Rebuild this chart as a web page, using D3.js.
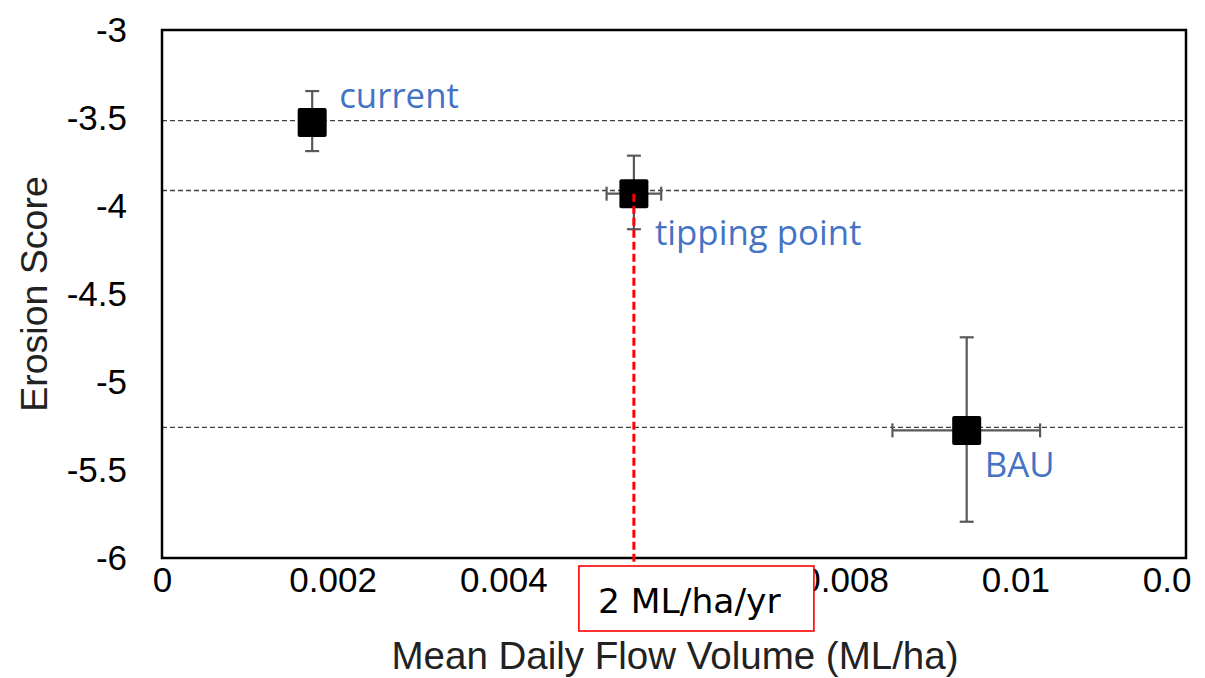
<!DOCTYPE html>
<html>
<head>
<meta charset="utf-8">
<script src="https://cdn.jsdelivr.net/npm/d3@7"></script>
<style>
  html, body { margin: 0; padding: 0; background: #fff; }
  svg { display: block; }
</style>
</head>
<body>
<svg id="chart" width="1205" height="678"></svg>
<script>
// ---- data ----
const categories = ["current", "tipping point", "BAU"];
const xValues = [0.00176, 0.00553, 0.00943];
const yValues = [-3.525, -3.93, -5.275];
const yErrLow = [-3.688, -4.132, -5.794];
const yErrHigh = [-3.347, -3.714, -4.746];
const xErrLow = [null, 0.00521, 0.00856];
const xErrHigh = [null, 0.00585, 0.01029];
const refLines = [-3.515, -3.912, -5.258];
const xTicks = [0, 0.002, 0.004, 0.006, 0.008, 0.01, 0.012];
const xTickLabels = ["0", "0.002", "0.004", "0.006", "0.008", "0.01", "0.012"];
const yTicks = [-3, -3.5, -4, -4.5, -5, -5.5, -6];
const yTickLabels = ["-3", "-3.5", "-4", "-4.5", "-5", "-5.5", "-6"];
const tippingIndex = 1;
const boxLabel = "2 ML/ha/yr";
const xTitle = "Mean Daily Flow Volume (ML/ha)";
const yTitle = "Erosion Score";

// ---- layout ----
const L = 162, R = 1186, T = 30, B = 558;
const svg = d3.select("#chart");
const x = d3.scaleLinear().domain([0, 0.012]).range([L, R]);
const y = d3.scaleLinear().domain([-6, -3]).range([B, T]);
const tickFont = "'Liberation Sans', Arial, sans-serif";
const labelFont = "'Open Sans', 'Noto Sans', sans-serif";
const blue = "#4472C4";
const errColor = "#595959";

svg.append("defs").append("clipPath").attr("id", "pageclip")
  .append("rect").attr("x", 0).attr("y", 0).attr("width", 1192).attr("height", 678);

// reference dashed lines
svg.append("g").selectAll("line").data(refLines).join("line")
  .attr("x1", L).attr("x2", R)
  .attr("y1", d => y(d)).attr("y2", d => y(d))
  .attr("stroke", "#404040").attr("stroke-width", 1.3)
  .attr("stroke-dasharray", "5,3");

// axes (labels only, via d3 axis)
const xAxis = d3.axisBottom(x).tickValues(xTicks)
  .tickFormat((d, i) => xTickLabels[i]).tickSize(0).tickPadding(34);
const gx = svg.append("g").attr("transform", `translate(0,${B})`)
  .attr("clip-path", "url(#pageclip)").call(xAxis);
gx.select(".domain").remove();
gx.selectAll("text").attr("font-family", tickFont).attr("font-size", 35)
  .attr("fill", "#000").attr("dy", "0");

const yAxis = d3.axisLeft(y).tickValues(yTicks)
  .tickFormat((d, i) => yTickLabels[i]).tickSize(0).tickPadding(35);
const gy = svg.append("g").attr("transform", `translate(${L},0)`).call(yAxis);
gy.select(".domain").remove();
gy.selectAll("text").attr("font-family", tickFont).attr("font-size", 35)
  .attr("fill", "#000");

// frame
svg.append("rect").attr("x", L).attr("y", T).attr("width", R - L).attr("height", B - T)
  .attr("fill", "none").attr("stroke", "#000").attr("stroke-width", 2.5);

// error bars
const eg = svg.append("g").attr("stroke", errColor).attr("stroke-width", 2.2);
const cap = 7;
categories.forEach((c, i) => {
  const cx = x(xValues[i]), cy = y(yValues[i]);
  eg.append("line").attr("x1", cx).attr("x2", cx).attr("y1", y(yErrHigh[i])).attr("y2", y(yErrLow[i]));
  [yErrHigh[i], yErrLow[i]].forEach(v => {
    eg.append("line").attr("x1", cx - cap).attr("x2", cx + cap).attr("y1", y(v)).attr("y2", y(v));
  });
  if (xErrLow[i] !== null) {
    eg.append("line").attr("x1", x(xErrLow[i])).attr("x2", x(xErrHigh[i])).attr("y1", cy).attr("y2", cy);
    [xErrLow[i], xErrHigh[i]].forEach(v => {
      eg.append("line").attr("x1", x(v)).attr("x2", x(v)).attr("y1", cy - cap).attr("y2", cy + cap);
    });
  }
});

// markers
const sz = 29;
svg.append("g").selectAll("rect").data(categories).join("rect")
  .attr("x", (d, i) => x(xValues[i]) - sz / 2)
  .attr("y", (d, i) => y(yValues[i]) - sz / 2)
  .attr("width", sz).attr("height", sz).attr("rx", 2)
  .attr("fill", "#000");

// labels
const labelOffsets = [[27, -14], [21, 51], [18, 47]];
svg.append("g").selectAll("text").data(categories).join("text")
  .attr("x", (d, i) => x(xValues[i]) + labelOffsets[i][0])
  .attr("y", (d, i) => y(yValues[i]) + labelOffsets[i][1])
  .attr("font-family", labelFont).attr("font-size", 34.8)
  .attr("fill", blue).text(d => d);

// red vertical dashed line from tipping point
const tx = x(xValues[tippingIndex]);
const boxTop = B + 8;
svg.append("line")
  .attr("x1", tx).attr("x2", tx)
  .attr("y1", y(yValues[tippingIndex])).attr("y2", boxTop)
  .attr("stroke", "#FF0000").attr("stroke-width", 3)
  .attr("stroke-dasharray", "8,4");

// red box with label
const boxX = tx - 55, boxW = 235, boxH = 65;
svg.append("rect").attr("x", boxX).attr("y", boxTop).attr("width", boxW).attr("height", boxH)
  .attr("fill", "#fff").attr("stroke", "#FF0000").attr("stroke-width", 1.6);
svg.append("text").attr("x", boxX + 19).attr("y", boxTop + 47)
  .attr("font-family", "'DejaVu Sans', Verdana, sans-serif").attr("font-size", 34.5)
  .attr("fill", "#000").text(boxLabel);

// axis titles
svg.append("text").attr("x", (L + R) / 2 + 1).attr("y", 669)
  .attr("text-anchor", "middle").attr("font-family", tickFont).attr("font-size", 38.5)
  .attr("fill", "#222").text(xTitle);
svg.append("text").attr("transform", `translate(47,${(T + B) / 2}) rotate(-90)`)
  .attr("text-anchor", "middle").attr("font-family", tickFont).attr("font-size", 37.5)
  .attr("fill", "#222").text(yTitle);
</script>
</body>
</html>
